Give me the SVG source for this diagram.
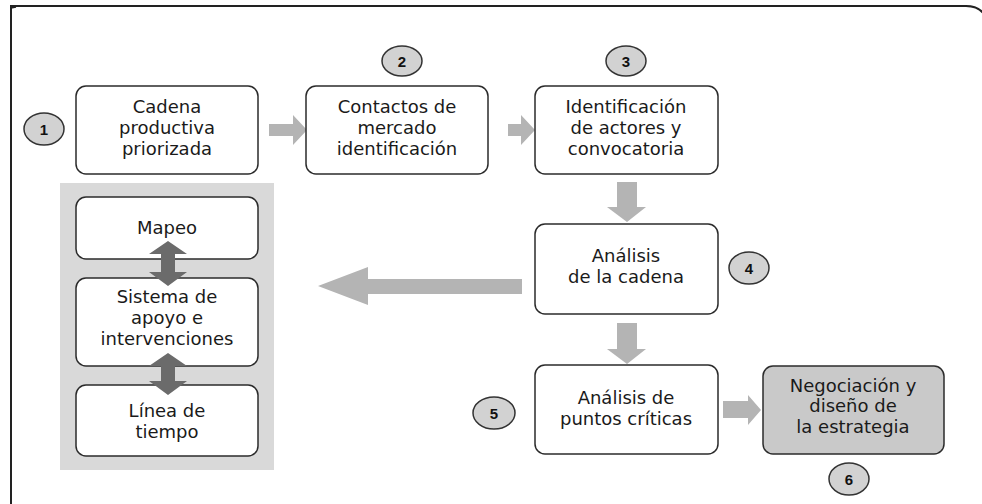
<svg xmlns="http://www.w3.org/2000/svg" width="982" height="504" viewBox="0 0 982 504">
<style>
.box{fill:#fff;stroke:#2b2b2b;stroke-width:1.5}
.gbox{fill:#c9c9c9;stroke:#2b2b2b;stroke-width:1.5}
.num{fill:#d2d2d2;stroke:#333;stroke-width:1.5}
.t{font-family:"DejaVu Sans",sans-serif;font-size:18px;fill:#1a1a1a;text-anchor:middle}
.n{font-family:"Liberation Sans",Arial,sans-serif;font-size:15px;font-weight:bold;fill:#111;text-anchor:middle}
.la{fill:#b4b4b4}
.da{fill:#6b6b6b}
</style>
<rect width="982" height="504" fill="#fff"/>
<path d="M11,504 V6 H966 Q978,6 984,14" fill="none" stroke="#222" stroke-width="2"/>
<path d="M11,8 L16,7" stroke="#222" stroke-width="1.5"/>
<rect id="panel" x="60" y="183" width="214" height="287" fill="#d9d9d9"/>
<g id="connectors">
<polygon class="la" points="269,124 293,124 293,115 307,130 293,145 293,136 269,136"/>
<polygon class="la" points="508,124 521,124 521,115 535,130 521,145 521,136 508,136"/>
<polygon class="la" points="617,182 637,182 637,207 646,207 627,222 607,207 617,207"/>
<polygon class="la" points="617,323 637,323 637,349 646,349 627,364 607,349 617,349"/>
<polygon class="la" points="522,279 368,279 368,267 318,286 368,305 368,294 522,294"/>
<polygon class="la" points="723,401 748,401 748,395 761,410 748,425 748,418 723,418"/>
</g>
<g id="n1"><rect class="box" x="76" y="86" width="182" height="88" rx="10"/>
<text class="t" x="167" y="113">Cadena</text><text class="t" x="167" y="134">productiva</text><text class="t" x="167" y="155">priorizada</text></g>
<g id="n2"><rect class="box" x="306" y="86" width="182" height="88" rx="10"/>
<text class="t" x="397" y="113">Contactos de</text><text class="t" x="397" y="134">mercado</text><text class="t" x="397" y="155">identificación</text></g>
<g id="n3"><rect class="box" x="535" y="86" width="183" height="88" rx="10"/>
<text class="t" x="626" y="113">Identificación</text><text class="t" x="626" y="134">de actores y</text><text class="t" x="626" y="155">convocatoria</text></g>
<g id="n4"><rect class="box" x="535" y="224" width="183" height="90" rx="10"/>
<text class="t" x="626" y="262">Análisis</text><text class="t" x="626" y="283">de la cadena</text></g>
<g id="n5"><rect class="box" x="535" y="365" width="183" height="89" rx="10"/>
<text class="t" x="626" y="404">Análisis de</text><text class="t" x="626" y="425">puntos críticas</text></g>
<g id="n6"><rect class="gbox" x="763" y="366" width="181" height="88" rx="10"/>
<text class="t" x="853" y="392">Negociación y</text><text class="t" x="853" y="412">diseño de</text><text class="t" x="853" y="433">la estrategia</text></g>
<g id="m1"><rect class="box" x="76" y="197" width="182" height="62" rx="10"/>
<text class="t" x="167" y="234">Mapeo</text></g>
<g id="m2"><rect class="box" x="76" y="278" width="182" height="88" rx="10"/>
<text class="t" x="167" y="303">Sistema de</text><text class="t" x="167" y="324">apoyo e</text><text class="t" x="167" y="345">intervenciones</text></g>
<g id="m3"><rect class="box" x="76" y="385" width="182" height="71" rx="10"/>
<text class="t" x="167" y="417">Línea de</text><text class="t" x="167" y="438">tiempo</text></g>
<g id="connectors2">
<polygon class="da" points="168,241 187,254 175,254 175,272 187,272 168,286 149,272 161,272 161,254 149,254"/>
<polygon class="da" points="168,353 187,366 175,366 175,381 187,381 168,395 149,381 161,381 161,366 149,366"/>
</g>
<g id="c1"><ellipse class="num" cx="44" cy="129" rx="20" ry="16"/><text class="n" x="44" y="135">1</text></g>
<g id="c2"><ellipse class="num" cx="402" cy="61" rx="20" ry="15"/><text class="n" x="402" y="67">2</text></g>
<g id="c3"><ellipse class="num" cx="626" cy="61" rx="20" ry="15"/><text class="n" x="626" y="67">3</text></g>
<g id="c4"><ellipse class="num" cx="749" cy="268" rx="20" ry="16"/><text class="n" x="749" y="274">4</text></g>
<g id="c5"><ellipse class="num" cx="494" cy="413" rx="21" ry="16"/><text class="n" x="494" y="419">5</text></g>
<g id="c6"><ellipse class="num" cx="849" cy="479" rx="20" ry="16"/><text class="n" x="849" y="485">6</text></g>
</svg>
